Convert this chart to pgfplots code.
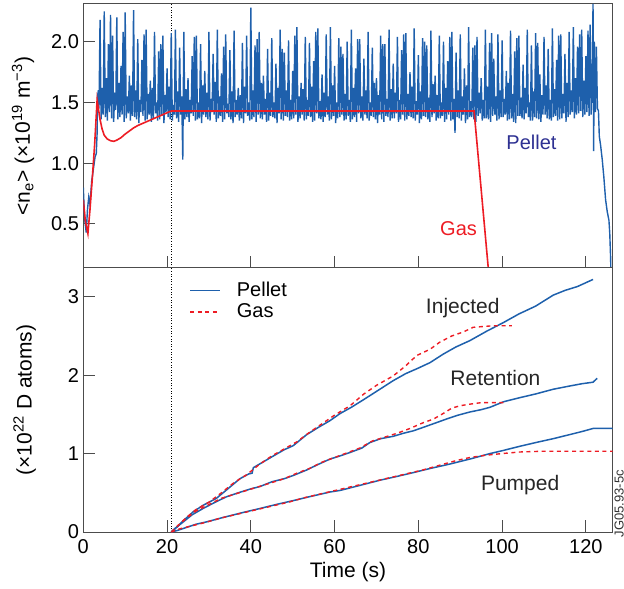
\documentclass[border=0pt]{standalone}
\usepackage{fontspec}
\setmainfont{Liberation Sans}
\usepackage{pgfplots}
\pgfplotsset{compat=1.18}

\definecolor{jetblue}{RGB}{30,96,172}
\definecolor{jetred}{RGB}{237,28,36}
\definecolor{jetnavy}{RGB}{46,49,146}

\pgfplotsset{
  jetpanel/.style={
    width=264.7pt, height=132pt, scale only axis,
    xmin=0, xmax=126.4,
    axis line style={black!70, line width=0.5pt},
    every tick/.style={black!70, line width=0.5pt},
    major tick length=6pt,
    tick align=inside,
    xtick pos=left, ytick pos=left,
    ticklabel style={font=\fontsize{10}{12}\selectfont},
    yticklabel style={inner xsep=2pt},
    /pgf/number format/assume math mode=true,
    label style={font=\fontsize{10.5}{12}\selectfont},
  },
}

\begin{document}
\begin{tikzpicture}

% ---- top panel: line-averaged density
\begin{axis}[jetpanel, at={(0pt,132pt)}, anchor=south west,
  ymin=0.138, ymax=2.31,
  ytick={0.5,1.0,1.5,2.0},
  yticklabel style={/pgf/number format/.cd, fixed, fixed zerofill, precision=1},
  xtick={20,40,...,120}, xticklabels={},
  ylabel={<n\textsubscript{e}> (×10\textsuperscript{19} m\textsuperscript{−3})},
  ylabel style={at={(axis description cs:-0.1007,0.5)}, anchor=base},
]
\addplot[black, line width=0.4pt, dash pattern=on 0.5pt off 0.8pt, forget plot] coordinates {(21,0.138) (21,2.31)};

% pellet fuelled
\addplot[jetblue, line width=0.7pt] coordinates {
(0,0.80)(0.3,0.55)(0.7,0.43)(1.0,0.62)(1.3,0.72)(1.6,0.66)(2.0,0.85)(2.4,0.95)(2.8,1.05)(3.1,1.08)(3.3,1.25)(3.4,1.55)(3.6,1.60)(3.75,1.45)
(4,2.18)(4.25,1.36)(4.5,1.62)(4.75,1.40)
(5,2.25)(5.25,1.38)(5.5,1.70)(5.75,1.35)
(6,1.98)(6.25,1.42)(6.5,2.22)(6.75,1.37)
(7,2.05)(7.25,1.34)(7.5,1.58)(7.75,1.44)
(8,2.20)(8.25,1.36)(8.5,1.66)(8.75,1.38)
(9,1.80)(9.25,1.40)(9.5,2.08)(9.75,1.34)
(10,2.24)(10.25,1.37)(10.5,1.55)(10.75,1.41)
(11,1.72)(11.25,1.35)(11.5,1.64)(11.75,1.39)
(12,2.26)(12.25,1.38)(12.5,1.60)(12.75,1.36)
(13,2.02)(13.25,1.33)(13.5,1.52)(13.75,1.42)
(14,1.85)(14.25,1.39)(14.5,2.06)(14.75,1.35)
(15,2.10)(15.25,1.36)(15.5,1.57)(15.75,1.40)
(16,1.68)(16.25,1.34)(16.5,1.62)(16.75,1.37)
(17,2.08)(17.25,1.41)(17.5,1.50)(17.75,1.35)
(18,1.92)(18.25,1.36)(18.5,1.98)(18.75,1.39)
(19,2.05)(19.25,1.33)(19.5,1.56)(19.75,1.42)
(20,1.78)(20.25,1.38)(20.5,1.63)(20.75,1.36)
(21,2.07)(21.25,1.35)(21.5,1.48)(21.75,1.40)
(22,2.10)(22.25,1.37)(22.5,1.59)(22.75,1.34)
(23,1.95)(23.25,1.40)(23.5,1.55)(23.75,1.03)
(24,2.08)(24.25,1.36)(24.5,1.61)(24.75,1.38)
(25,1.70)(25.25,1.34)(25.5,1.52)(25.75,1.41)
(26,1.88)(26.25,1.39)(26.5,2.04)(26.75,1.35)
(27,2.05)(27.25,1.36)(27.5,1.50)(27.75,1.37)
(28,1.98)(28.25,1.33)(28.5,1.64)(28.75,1.40)
(29,1.76)(29.25,1.38)(29.5,1.58)(29.75,1.36)
(30,2.08)(30.25,1.35)(30.5,1.53)(30.75,1.42)
(31,1.90)(31.25,1.40)(31.5,1.67)(31.75,1.34)
(32,2.10)(32.25,1.37)(32.5,1.55)(32.75,1.39)
(33,1.74)(33.25,1.34)(33.5,1.96)(33.75,1.36)
(34,2.06)(34.25,1.41)(34.5,1.49)(34.75,1.38)
(35,1.93)(35.25,1.36)(35.5,1.59)(35.75,1.33)
(36,2.09)(36.25,1.38)(36.5,1.52)(36.75,1.40)
(37,1.62)(37.25,1.35)(37.5,1.56)(37.75,1.37)
(38,1.99)(38.25,1.33)(38.5,1.63)(38.75,1.41)
(39,2.05)(39.25,1.39)(39.5,1.50)(39.75,1.35)
(40,2.28)(40.25,1.36)(40.5,1.60)(40.75,1.38)
(41,1.97)(41.25,1.34)(41.5,2.02)(41.75,1.40)
(42,2.08)(42.25,1.37)(42.5,1.66)(42.75,1.36)
(43,1.72)(43.25,1.40)(43.5,1.53)(43.75,1.34)
(44,1.94)(44.25,1.35)(44.5,1.58)(44.75,1.39)
(45,2.03)(45.25,1.38)(45.5,1.50)(45.75,1.37)
(46,1.82)(46.25,1.33)(46.5,1.62)(46.75,1.41)
(47,2.10)(47.25,1.36)(47.5,1.94)(47.75,1.35)
(48,1.91)(48.25,1.39)(48.5,1.60)(48.75,1.38)
(49,2.01)(49.25,1.35)(49.5,1.52)(49.75,1.36)
(50,1.76)(50.25,1.37)(50.5,2.05)(50.75,1.40)
(51,2.12)(51.25,1.34)(51.5,1.55)(51.75,1.37)
(52,1.66)(52.25,1.40)(52.5,1.61)(52.75,1.35)
(53,2.04)(53.25,1.36)(53.5,1.52)(53.75,1.39)
(54,1.99)(54.25,1.38)(54.5,1.63)(54.75,1.34)
(55,1.84)(55.25,1.35)(55.5,2.08)(55.75,1.41)
(56,2.11)(56.25,1.37)(56.5,1.51)(56.75,1.36)
(57,1.73)(57.25,1.34)(57.5,1.58)(57.75,1.38)
(58,2.06)(58.25,1.40)(58.5,1.55)(58.75,1.35)
(59,2.12)(59.25,1.36)(59.5,1.64)(59.75,1.39)
(60,1.80)(60.25,1.33)(60.5,1.50)(60.75,1.37)
(61,2.03)(61.25,1.38)(61.5,1.96)(61.75,1.40)
(62,1.90)(62.25,1.35)(62.5,1.57)(62.75,1.36)
(63,2.00)(63.25,1.39)(63.5,1.52)(63.75,1.34)
(64,2.10)(64.25,1.36)(64.5,1.62)(64.75,1.38)
(65,1.78)(65.25,1.34)(65.5,2.02)(65.75,1.41)
(66,2.02)(66.25,1.37)(66.5,1.55)(66.75,1.35)
(67,1.86)(67.25,1.40)(67.5,1.60)(67.75,1.37)
(68,2.08)(68.25,1.35)(68.5,1.50)(68.75,1.39)
(69,1.95)(69.25,1.38)(69.5,1.66)(69.75,1.36)
(70,1.70)(70.25,1.33)(70.5,1.56)(70.75,1.40)
(71,2.05)(71.25,1.36)(71.5,1.98)(71.75,1.34)
(72,1.98)(72.25,1.39)(72.5,1.53)(72.75,1.38)
(73,2.10)(73.25,1.35)(73.5,1.61)(73.75,1.37)
(74,1.82)(74.25,1.37)(74.5,1.58)(74.75,1.41)
(75,2.04)(75.25,1.34)(75.5,1.52)(75.75,1.36)
(76,1.93)(76.25,1.40)(76.5,2.06)(76.75,1.35)
(77,2.07)(77.25,1.36)(77.5,1.57)(77.75,1.39)
(78,1.75)(78.25,1.38)(78.5,1.63)(78.75,1.37)
(79,2.11)(79.25,1.35)(79.5,1.51)(79.75,1.40)
(80,1.89)(80.25,1.33)(80.5,1.59)(80.75,1.36)
(81,2.03)(81.25,1.39)(81.5,2.00)(81.75,1.38)
(82,1.97)(82.25,1.36)(82.5,1.54)(82.75,1.34)
(83,2.09)(83.25,1.38)(83.5,1.65)(83.75,1.41)
(84,1.72)(84.25,1.35)(84.5,1.56)(84.75,1.37)
(85,2.05)(85.25,1.37)(85.5,1.50)(85.75,1.39)
(86,2.00)(86.25,1.34)(86.5,1.62)(86.75,1.36)
(87,1.84)(87.25,1.40)(87.5,2.04)(87.75,1.35)
(88,2.08)(88.25,1.36)(88.5,1.53)(88.75,1.25)
(89,1.91)(89.25,1.38)(89.5,1.60)(89.75,1.37)
(90,2.06)(90.25,1.35)(90.5,1.55)(90.75,1.40)
(91,1.78)(91.25,1.33)(91.5,1.64)(91.75,1.36)
(92,2.12)(92.25,1.38)(92.5,1.51)(92.75,1.38)
(93,1.95)(93.25,1.36)(93.5,1.97)(93.75,1.34)
(94,2.04)(94.25,1.39)(94.5,1.58)(94.75,1.41)
(95,1.70)(95.25,1.35)(95.5,1.52)(95.75,1.37)
(96,2.10)(96.25,1.37)(96.5,1.63)(96.75,1.36)
(97,1.99)(97.25,1.34)(97.5,2.07)(97.75,1.39)
(98,1.86)(98.25,1.40)(98.5,1.55)(98.75,1.35)
(99,2.06)(99.25,1.36)(99.5,1.60)(99.75,1.38)
(100,2.01)(100.25,1.38)(100.5,1.53)(100.75,1.40)
(101,1.76)(101.25,1.35)(101.5,1.66)(101.75,1.36)
(102,2.09)(102.25,1.37)(102.5,1.57)(102.75,1.34)
(103,1.92)(103.25,1.33)(103.5,2.03)(103.75,1.39)
(104,2.05)(104.25,1.39)(104.5,1.54)(104.75,1.37)
(105,1.81)(105.25,1.36)(105.5,1.62)(105.75,1.41)
(106,2.10)(106.25,1.38)(106.5,1.50)(106.75,1.35)
(107,1.97)(107.25,1.35)(107.5,1.59)(107.75,1.38)
(108,2.07)(108.25,1.37)(108.5,1.99)(108.75,1.36)
(109,1.73)(109.25,1.34)(109.5,1.56)(109.75,1.40)
(110,2.04)(110.25,1.40)(110.5,1.64)(110.75,1.37)
(111,1.94)(111.25,1.36)(111.5,1.52)(111.75,1.35)
(112,2.11)(112.25,1.38)(112.5,1.61)(112.75,1.39)
(113,1.85)(113.25,1.35)(113.5,2.05)(113.75,1.36)
(114,2.06)(114.25,1.37)(114.5,1.57)(114.75,1.41)
(115,1.90)(115.25,1.34)(115.5,1.66)(115.75,1.38)
(116,2.08)(116.25,1.40)(116.5,1.60)(116.75,1.42)
(117,2.12)(117.25,1.37)(117.5,1.70)(117.75,1.40)
(118,1.96)(118.25,1.41)(118.5,2.06)(118.75,1.43)
(119,2.10)(119.25,1.38)(119.5,1.68)(119.75,1.40)
(120,1.88)(120.25,1.42)(120.5,2.09)(120.75,1.39)
(121,2.14)(121.25,1.40)(121.5,1.65)(121.7,2.31)(121.85,1.10)
(122,2.00)(122.25,1.42)(122.5,1.96)(122.75,1.45)(123.0,1.43)(123.2,1.22)(123.5,1.15)(123.9,1.03)
(124.3,0.88)(124.7,0.70)(125.1,0.60)(125.5,0.53)(125.7,0.42)(125.9,0.22)(126.0,0.05)
};

% gas fuelled
\addplot[jetred, line width=0.8pt] coordinates {
(0,0.70)(0.5,0.52)(1.1,0.42)(1.6,0.62)(2.2,0.90)(2.7,1.15)(3.3,1.52)(3.6,1.45)(4.0,1.36)
(4.5,1.28)(5.0,1.23)(5.7,1.20)(6.5,1.185)(7.3,1.18)(8.0,1.19)(9.0,1.21)(10,1.24)(11,1.265)
(12,1.29)(13,1.31)(14,1.325)(15,1.34)(16,1.355)(17,1.37)(18,1.385)(19,1.40)(20,1.415)(21,1.43)
(93.3,1.43)(97.05,0.0)
};

\node[jetnavy, anchor=base, font=\fontsize{10}{12}\selectfont] at (axis cs:107.0,1.109) {Pellet};
\node[jetred, anchor=base, font=\fontsize{10}{12}\selectfont] at (axis cs:89.6,0.407) {Gas};
\end{axis}

% ---- bottom panel: particle balance
\begin{axis}[jetpanel, at={(0pt,0pt)}, anchor=south west,
  ymin=0, ymax=3.366,
  ytick={0,1,2,3},
  xtick={0,20,...,120},
  xlabel={Time (s)},
  xlabel style={at={(axis description cs:0.5,0)}, anchor=base, yshift=-22.5pt},
  ylabel={(×10\textsuperscript{22} D atoms)},
  ylabel style={at={(axis description cs:-0.0975,0.5)}, anchor=base},
  legend cell align=left,
  legend image code/.code={\draw[#1] (0pt,0pt) -- (15pt,0pt);},
  legend style={at={(axis cs:23.8,3.30)}, anchor=north west, draw=none, fill=none,
    font=\fontsize{10}{12}\selectfont, row sep=-1.7pt,
    /tikz/every odd column/.append style={column sep=6pt}},
]
\addplot[black, line width=0.4pt, dash pattern=on 0.5pt off 0.8pt, forget plot] coordinates {(21,0) (21,3.366)};

% injected
\addplot[jetblue, line width=0.75pt] coordinates {
(21.0,0.0)(22.3,0.06)(24,0.15)(26.3,0.26)(28.6,0.34)(31.8,0.43)(34.5,0.55)(37.4,0.68)(39.5,0.74)
(40.3,0.75)(40.6,0.82)(42.2,0.87)(45.4,0.97)(48,1.05)(50.1,1.10)(53.3,1.24)(56,1.33)(58.9,1.42)
(61.3,1.51)(64,1.59)(67,1.69)(70.8,1.82)(74,1.93)(77,2.02)(80,2.09)(82.8,2.16)(86,2.27)(89,2.36)
(92.3,2.44)(96.3,2.56)(100.3,2.67)(104,2.78)(108,2.88)(112.2,3.02)(115,3.08)(118,3.13)(121.7,3.22)
};
\addlegendentry{Pellet}
\addplot[jetred, line width=0.7pt, dash pattern=on 2pt off 1.8pt] coordinates {
(21,0)(22.5,0.07)(24.5,0.18)(27,0.29)(30,0.38)(33,0.50)(36,0.63)(39,0.73)(42,0.86)(45,0.97)
(48,1.06)(51,1.15)(54,1.27)(57,1.38)(60,1.49)(63.7,1.61)(67,1.76)(70,1.87)(74,1.99)(77,2.12)
(79.6,2.25)(82.8,2.33)(85.1,2.42)(88,2.50)(90.7,2.55)(93.1,2.61)(95.5,2.62)(98,2.63)(102.3,2.63)
};
\addlegendentry{Gas}

% retention
\addplot[jetblue, line width=0.75pt, forget plot] coordinates {
(21,0)(22,0.05)(23.9,0.13)(26,0.22)(28.6,0.30)(31.5,0.38)(34.2,0.45)(37,0.50)(40,0.55)(42.2,0.58)
(45,0.64)(48,0.68)(50.1,0.72)(53.3,0.79)(56,0.86)(58.9,0.93)(61.3,0.97)(64,1.02)(66.5,1.07)
(68.4,1.14)(71,1.19)(74,1.22)(76.5,1.26)(78.8,1.29)(82,1.35)(86.7,1.44)(89.5,1.49)(92.3,1.53)
(95,1.56)(97.1,1.59)(100.3,1.66)(104,1.71)(108,1.76)(112.2,1.82)(116,1.86)(119,1.89)(121.7,1.91)(122.7,1.96)
};
\addplot[jetred, line width=0.7pt, dash pattern=on 2pt off 1.8pt, forget plot] coordinates {
(21,0)(22.5,0.08)(24.5,0.17)(27,0.27)(30,0.35)(33,0.43)(36,0.48)(39,0.53)(42,0.58)(45,0.63)
(48,0.68)(51,0.75)(54,0.81)(57,0.89)(60,0.95)(63,1.01)(66,1.07)(69,1.16)(72,1.21)(75,1.26)
(78,1.32)(81,1.39)(83.6,1.44)(85.9,1.51)(88,1.58)(90,1.61)(92.3,1.63)(95.1,1.65)(98,1.65)(101,1.65)
};

% pumped
\addplot[jetblue, line width=0.75pt, forget plot] coordinates {
(21,0)(22.5,0.02)(24.7,0.06)(27,0.10)(29.5,0.13)(33,0.18)(36,0.22)(39,0.26)(42.2,0.30)(46,0.35)
(50.1,0.40)(54,0.45)(58.9,0.51)(61.3,0.53)(65,0.58)(70.8,0.66)(75,0.71)(79,0.76)(82.8,0.81)
(87,0.86)(92.3,0.93)(97.1,1.00)(100.3,1.04)(104,1.09)(108,1.14)(112.2,1.19)(116,1.24)(119,1.28)
(121.7,1.32)(126.4,1.32)
};
\addplot[jetred, line width=0.7pt, dash pattern=on 2pt off 1.8pt, forget plot] coordinates {
(21,0)(23,0.04)(26,0.08)(29,0.12)(33,0.18)(37,0.23)(41,0.28)(45,0.33)(49,0.38)(53,0.44)(57,0.49)
(61,0.54)(65,0.59)(69,0.64)(73,0.69)(77,0.74)(81,0.79)(85,0.85)(89,0.91)(92.3,0.95)(96.3,0.98)
(100,1.00)(104.2,1.02)(110,1.03)(126.4,1.03)
};

\node[black!85, anchor=base, font=\fontsize{10.5}{12}\selectfont] at (axis cs:90.6,2.79) {Injected};
\node[black!85, anchor=base, font=\fontsize{10.5}{12}\selectfont] at (axis cs:98.4,1.867) {Retention};
\node[black!85, anchor=base, font=\fontsize{10.5}{12}\selectfont] at (axis cs:104.3,0.53) {Pumped};
\end{axis}

\node[rotate=90, anchor=base, black!80, font=\fontsize{6.5}{7}\selectfont] at (270.1pt,14.15pt) {JG05.93-5c};

\pgfresetboundingbox
\path (-41.65pt,-28pt) rectangle (270.35pt,266pt);
\end{tikzpicture}
\end{document}
